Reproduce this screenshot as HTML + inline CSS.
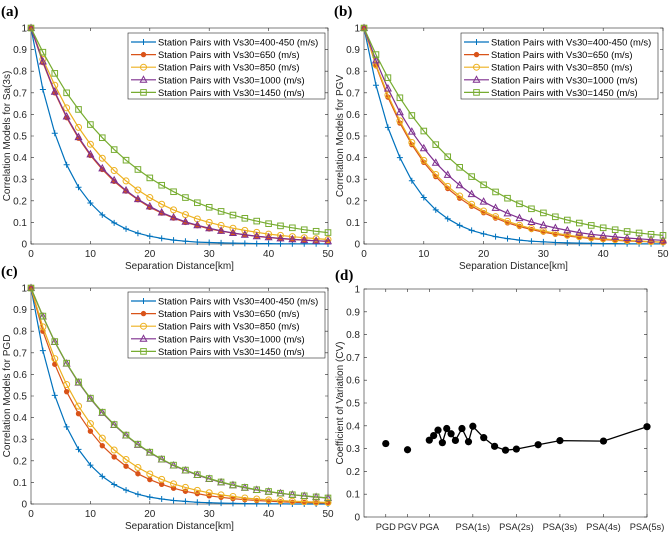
<!DOCTYPE html>
<html><head><meta charset="utf-8"><style>
body{margin:0;background:#fff;}
svg{display:block;font-family:"Liberation Sans",sans-serif;}
</style></head><body>
<svg id="fig" width="669" height="533" viewBox="0 0 669 533"></svg>
<script>
const distances=[0,2,4,6,8,10,12,14,16,18,20,22,24,26,28,30,32,34,36,38,40,42,44,46,48,50];
const seriesNames=["Station Pairs with Vs30=400-450 (m/s)","Station Pairs with Vs30=650 (m/s)","Station Pairs with Vs30=850 (m/s)","Station Pairs with Vs30=1000 (m/s)","Station Pairs with Vs30=1450 (m/s)"];
const aBlue=[1,.715,.513,.367,.263,.19,.135,.098,.07,.05,.036,.026,.018,.013,.009,.007,.005,.004,.003,.002,.002,.001,.001,.001,.001,0];
const aOrange=[1,.84,.70,.585,.49,.41,.345,.29,.245,.205,.17,.143,.12,.10,.085,.07,.06,.05,.042,.035,.03,.025,.021,.018,.015,.012];
const aYellow=[1,.855,.735,.63,.54,.462,.397,.34,.292,.25,.215,.184,.158,.136,.116,.1,.086,.073,.063,.054,.046,.04,.034,.029,.025,.021];
const aPurple=[1,.845,.705,.59,.495,.415,.35,.295,.248,.208,.174,.146,.123,.103,.087,.073,.061,.051,.043,.036,.031,.026,.022,.018,.015,.013];
const aGreen=[1,.888,.79,.70,.623,.553,.492,.437,.388,.345,.306,.272,.242,.215,.191,.17,.151,.134,.119,.106,.094,.084,.075,.066,.059,.053];
const bBlue=[1,.735,.54,.40,.293,.215,.158,.117,.086,.063,.047,.034,.025,.018,.013,.01,.007,.005,.004,.003,.002,.002,.001,.001,.001,.001];
const bOrange=[1,.825,.68,.56,.46,.378,.312,.257,.212,.175,.145,.12,.098,.081,.067,.055,.045,.037,.031,.025,.021,.017,.014,.012,.01,.008];
const bYellow=[1,.83,.69,.57,.47,.387,.322,.267,.222,.184,.153,.127,.105,.087,.072,.06,.05,.041,.034,.029,.024,.02,.016,.014,.011,.009];
const bPurple=[1,.85,.72,.61,.52,.443,.376,.32,.272,.231,.196,.167,.142,.12,.102,.087,.074,.063,.053,.045,.039,.033,.028,.024,.02,.017];
const bGreen=[1,.877,.77,.677,.595,.523,.46,.404,.355,.312,.274,.241,.212,.186,.163,.144,.126,.111,.097,.086,.075,.066,.058,.051,.045,.04];
const cBlue=[1,.71,.503,.357,.253,.18,.128,.09,.064,.045,.032,.023,.016,.012,.008,.006,.004,.003,.002,.001,.001,.001,0,0,0,0];
const cOrange=[1,.8,.647,.52,.418,.337,.27,.218,.175,.14,.113,.091,.073,.059,.048,.038,.031,.025,.02,.016,.013,.01,.008,.007,.005,.004];
const cYellow=[1,.82,.673,.553,.453,.372,.305,.25,.206,.169,.139,.114,.093,.077,.063,.052,.042,.035,.028,.023,.019,.016,.013,.011,.009,.007];
const cPurple=[1,.868,.75,.65,.562,.487,.422,.366,.317,.274,.238,.206,.178,.155,.134,.116,.1,.087,.075,.065,.057,.049,.043,.037,.032,.028];
const cGreen=[1,.87,.752,.652,.565,.49,.425,.368,.319,.277,.24,.208,.18,.157,.136,.118,.102,.088,.077,.066,.058,.05,.043,.038,.033,.028];
const xTicks=[0,10,20,30,40,50];
const yTicks=[0,0.1,0.2,0.3,0.4,0.5,0.6,0.7,0.8,0.9,1];
const yTickLabels=["0","0.1","0.2","0.3","0.4","0.5","0.6","0.7","0.8","0.9","1"];
const cvLabels=["PGD","PGV","PGA","PSA(1s)","PSA(2s)","PSA(3s)","PSA(4s)","PSA(5s)"];
const cvLabelPos=[1,2,3,5,7,9,11,13];
const cvSingleX=[1,2];
const cvSingleY=[0.322,0.295];
const cvLineX=[3,3.2,3.4,3.6,3.8,4,4.2,4.5,4.8,5,5.5,6,6.5,7,8,9,11,13];
const cvLineY=[0.337,0.357,0.381,0.326,0.388,0.365,0.336,0.388,0.33,0.398,0.348,0.31,0.293,0.298,0.317,0.335,0.333,0.396];

const NS="http://www.w3.org/2000/svg";
const svg=document.getElementById('fig');
const colors=["#0072BD","#D95319","#EDB120","#7E2F8E","#77AC30"];
const markers=["plus","star","circle","tri","square"];
function el(tag,attrs,parent){const e=document.createElementNS(NS,tag);for(const k in attrs)e.setAttribute(k,attrs[k]);(parent||svg).appendChild(e);return e;}
function txt(s,attrs,parent){const t=el('text',attrs,parent);t.textContent=s;return t;}
function marker(g,type,x,y,c){
  let m;
  if(type==="plus"){m=el('path',{d:`M${x-3},${y}H${x+3}M${x},${y-3}V${y+3}`,stroke:c,'stroke-width':1},g);}
  else if(type==="star"){m=el('circle',{cx:x,cy:y,r:2.2,fill:c,stroke:c},g);}
  else if(type==="circle"){m=el('circle',{cx:x,cy:y,r:3,fill:'none',stroke:c,'stroke-width':1},g);}
  else if(type==="tri"){m=el('path',{d:`M${x},${y-3.5}L${x+3.2},${y+2.5}L${x-3.2},${y+2.5}Z`,fill:'none',stroke:c,'stroke-width':1},g);}
  else {m=el('rect',{x:x-2.8,y:y-2.8,width:5.6,height:5.6,fill:'none',stroke:c,'stroke-width':1},g);}
  
  
}
function axesFrame(g,L,R,T,B,xScale,yScale,xt,xtl,xfs){
  const box=el('rect',{x:L,y:T,width:R-L,height:B-T,fill:'#fff',stroke:'#262626','stroke-width':0.6},g);
  
  
  yTicks.forEach((v,i)=>{const y=yScale(v);
    el('path',{d:`M${L},${y}h3M${R},${y}h-3`,stroke:'#262626','stroke-width':0.6},g);
    const t=txt(yTickLabels[i],{x:L-4,y:y+3.5,'text-anchor':'end','font-size':10,fill:'#262626'},g);
    
    });
  xt.forEach((v,i)=>{const x=xScale(v);
    el('path',{d:`M${x},${B}v-3M${x},${T}v3`,stroke:'#262626','stroke-width':0.6},g);
    const t=txt(xtl[i],{x:x,y:B+13,'text-anchor':'middle','font-size':xfs||10,fill:'#262626'},g);
    
    });
}
function curvePanel(name,label,L,R,T,B,ytitle,data,legX,legY){
  const g=el('g',{});
  
  
  const xs=v=>L+(R-L)*v/50, ys=v=>B-(B-T)*v;
  axesFrame(g,L,R,T,B,xs,ys,xTicks,xTicks.map(String));
  data.forEach((arr,si)=>{
    const sg=el('g',{},g);
    
    
    const d=arr.map((v,i)=>(i?'L':'M')+xs(distances[i]).toFixed(1)+','+ys(v).toFixed(1)).join('');
    el('path',{d:d,fill:'none',stroke:colors[si],'stroke-width':1.2},sg);
    arr.forEach((v,i)=>marker(sg,markers[si],xs(distances[i]),ys(v),colors[si]));
  });
  const lg=el('g',{},g);
  
  
  el('rect',{x:legX,y:legY,width:197,height:66,fill:'#fff',stroke:'#262626','stroke-width':0.6},lg);
  seriesNames.forEach((n,i)=>{
    const y=legY+9+i*12.6;
    const eg=el('g',{},lg);
    
    
    el('path',{d:`M${legX+3},${y}h25`,stroke:colors[i],'stroke-width':1.2},eg);
    marker(eg,markers[i],legX+15.5,y,colors[i]);
    txt(n,{x:legX+30,y:y+3.5,'font-size':9.4,fill:'#000'},eg);
  });
  const xt=txt('Separation Distance[km]',{x:(L+R)/2,y:B+25,'text-anchor':'middle','font-size':10,fill:'#262626'},g);
  
  
  const yt=txt(ytitle,{x:0,y:0,transform:`translate(${L-21},${(T+B)/2}) rotate(-90)`,'text-anchor':'middle','font-size':10,fill:'#262626'},g);
  
  
  const pl=txt(label,{x:L-30,y:T-12,'font-size':15,'font-weight':'bold','font-family':'Liberation Serif, serif',fill:'#000'},g);
  
  
}
curvePanel('panel-a','(a)',31,328,28,244,'Correlation Models for Sa(3s)',[aBlue,aOrange,aYellow,aPurple,aGreen],128,33);
curvePanel('panel-b','(b)',364,663,28,244,'Correlation Models for PGV',[bBlue,bOrange,bYellow,bPurple,bGreen],461,33);
curvePanel('panel-c','(c)',31,328,288,504,'Correlation Models for PGD',[cBlue,cOrange,cYellow,cPurple,cGreen],128,292);

// panel d
(function(){
  const L=364,R=647,T=289,B=517;
  const g=el('g',{});
  
  
  const xs=v=>L+(R-L)*v/13, ys=v=>B-(B-T)*v;
  axesFrame(g,L,R,T,B,xs,ys,cvLabelPos,cvLabels,9.3);
  const d=cvLineX.map((v,i)=>(i?'L':'M')+xs(v).toFixed(1)+','+ys(cvLineY[i]).toFixed(1)).join('');
  const ln=el('path',{d:d,fill:'none',stroke:'#000','stroke-width':1.3},g);
  
  
  cvLineX.forEach((v,i)=>{const c=el('circle',{cx:xs(v),cy:ys(cvLineY[i]),r:3.6,fill:'#000'},g);
    
    });
  cvSingleX.forEach((v,i)=>{const c=el('circle',{cx:xs(v),cy:ys(cvSingleY[i]),r:3.6,fill:'#000'},g);
    
    });
  const yt=txt('Coefficient of Variation (CV)',{x:0,y:0,transform:`translate(${L-21},${(T+B)/2}) rotate(-90)`,'text-anchor':'middle','font-size':10,fill:'#262626'},g);
  
  
  const pl=txt('(d)',{x:335,y:280,'font-size':15,'font-weight':'bold','font-family':'Liberation Serif, serif',fill:'#000'},g);
  
  
})();
</script>
</body></html>
